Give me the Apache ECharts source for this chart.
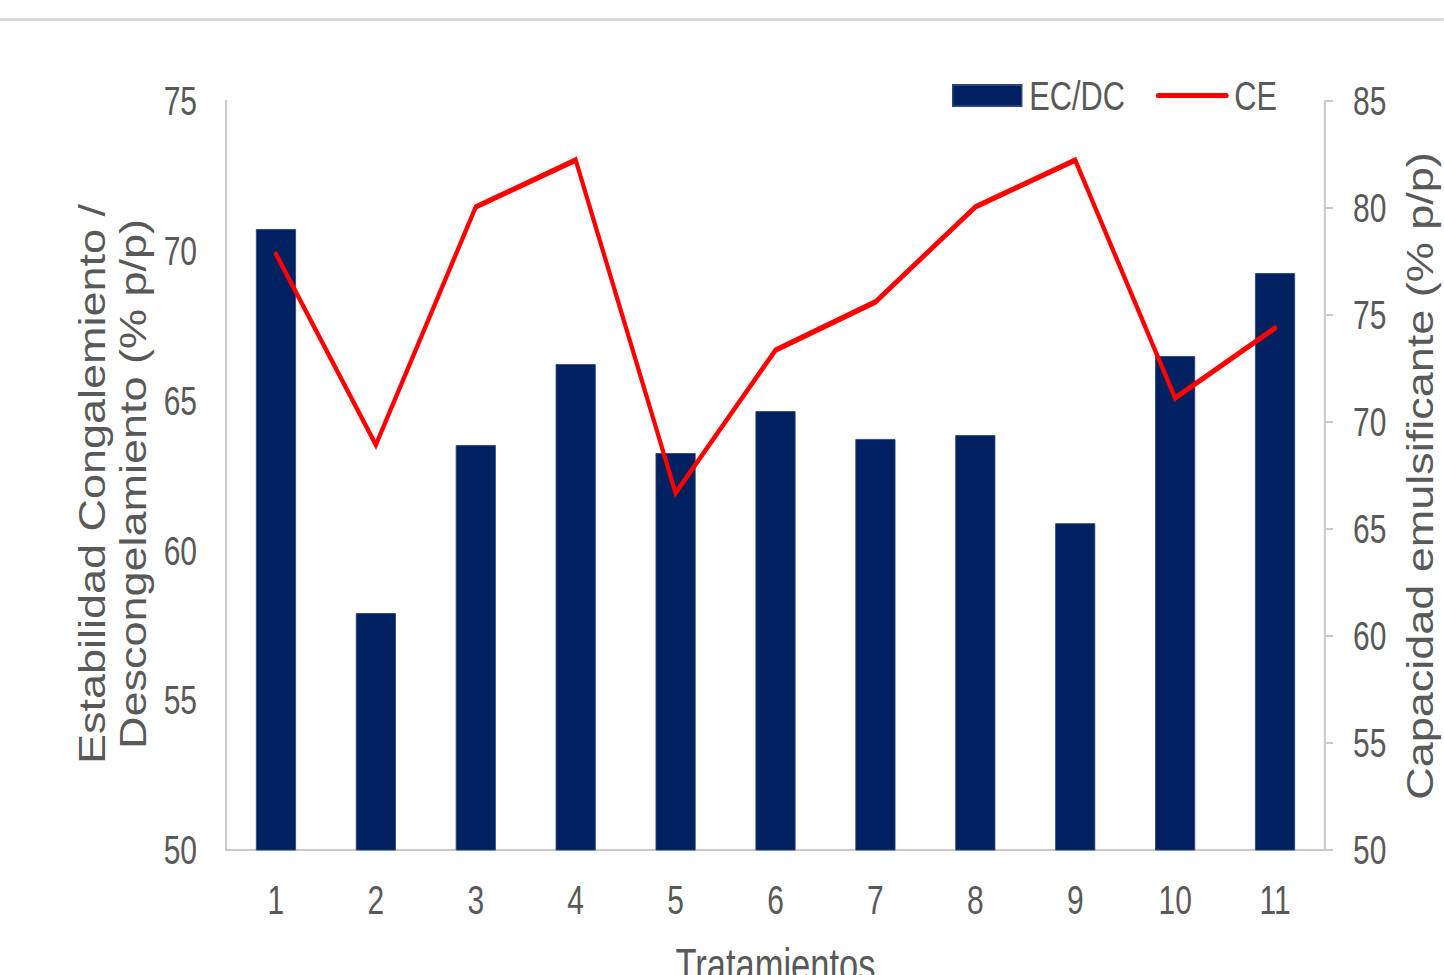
<!DOCTYPE html>
<html>
<head>
<meta charset="utf-8">
<script src="https://cdn.jsdelivr.net/npm/echarts@6/dist/echarts.min.js"></script>
<style>
  html, body { margin: 0; padding: 0; background: #fff; overflow: hidden; width: 1444px; height: 975px; }
  /* The chart is laid out on a wider canvas and squeezed horizontally,
     giving the condensed lettering of the original figure. */
  #chart { width: 1925.33px; height: 975px; transform: scaleX(0.75); transform-origin: 0 0; }
</style>
</head>
<body>
<div id="chart"></div>
<script>
// Treatments on the x axis
const categories = ['1', '2', '3', '4', '5', '6', '7', '8', '9', '10', '11'];
// Freeze/thaw stability (% p/p), left axis
const ecdc = [70.73, 57.91, 63.52, 66.22, 63.25, 64.65, 63.72, 63.85, 60.91, 66.49, 69.26];
// Emulsifying capacity (% p/p), right axis
const ce = [77.85, 68.93, 80.05, 82.24, 66.68, 73.36, 75.61, 80.05, 82.24, 71.12, 74.39];

const SQ = 0.75;                 // horizontal squeeze applied to the chart box
const px = v => v / SQ;          // screen x distance -> layout x distance

const font = "'Liberation Sans', Arial, sans-serif";
const textColor = '#595959';
const axisGray = '#c9c9c9';

const chart = echarts.init(document.getElementById('chart'), null, { renderer: 'svg' });

chart.setOption({
  backgroundColor: '#ffffff',
  animation: false,
  graphic: [
    {
      type: 'rect',
      x: 0, y: 18,
      shape: { width: px(1444), height: 3 },
      style: { fill: '#d9d9d9' },
      silent: true
    },
    {
      // left axis title, two lines reading bottom to top
      type: 'text',
      x: px(112), y: 484,
      rotation: Math.PI / 2,
      scaleY: 0.84 / SQ,
      silent: true,
      style: {
        text: 'Estabilidad Congalemiento /\nDescongelamiento (% p/p)',
        fontFamily: font, fontSize: 45, lineHeight: 49,
        fill: textColor,
        align: 'center', verticalAlign: 'middle',
        textAlign: 'center', textVerticalAlign: 'middle'
      }
    },
    {
      // right axis title
      type: 'text',
      x: px(1420), y: 476,
      rotation: Math.PI / 2,
      scaleY: 0.84 / SQ,
      silent: true,
      style: {
        text: 'Capacidad emulsificante (% p/p)',
        fontFamily: font, fontSize: 45,
        fill: textColor,
        align: 'center', verticalAlign: 'middle',
        textAlign: 'center', textVerticalAlign: 'middle'
      }
    }
  ],
  legend: {
    right: px(1444 - 1281),
    top: 70,
    itemWidth: px(69),
    itemHeight: 21,
    itemGap: px(31),
    textStyle: { fontFamily: font, fontSize: 41, color: textColor, padding: [0, 0, 0, 5] },
    data: [
      { name: 'EC/DC', icon: 'rect' },
      { name: 'CE', itemStyle: { opacity: 0 }, lineStyle: { width: 5, cap: 'round', color: '#ff0000' } }
    ]
  },
  grid: { left: px(226), width: px(1325 - 226), top: 101, height: 749, outerBoundsMode: 'none' },
  xAxis: {
    type: 'category',
    data: categories,
    boundaryGap: true,
    name: 'Tratamientos',
    nameLocation: 'middle',
    nameGap: 92,
    nameTextStyle: { fontFamily: font, fontSize: 46, color: textColor },
    axisLine: { lineStyle: { color: axisGray, width: 2 } },
    axisTick: { show: false },
    axisLabel: { fontFamily: font, fontSize: 40, color: textColor, margin: 30 }
  },
  yAxis: [
    {
      type: 'value',
      min: 50, max: 75, interval: 5,
      position: 'left',
      axisLine: { show: true, lineStyle: { color: axisGray, width: px(2) } },
      axisTick: { show: false },
      splitLine: { show: false },
      axisLabel: { fontFamily: font, fontSize: 40, color: textColor, margin: px(29) }
    },
    {
      type: 'value',
      min: 50, max: 85, interval: 5,
      position: 'right',
      axisLine: { show: true, lineStyle: { color: axisGray, width: px(2) } },
      axisTick: { show: true, length: px(8), lineStyle: { color: axisGray, width: 2 } },
      splitLine: { show: false },
      axisLabel: { fontFamily: font, fontSize: 40, color: textColor, margin: px(28) }
    }
  ],
  series: [
    {
      name: 'EC/DC',
      type: 'bar',
      yAxisIndex: 0,
      data: ecdc,
      barWidth: px(40),
      itemStyle: { color: '#002060', borderColor: '#2a4680', borderWidth: 1 }
    },
    {
      name: 'CE',
      type: 'line',
      yAxisIndex: 1,
      data: ce,
      symbol: 'none',
      lineStyle: { color: '#ff0000', width: 5.5, cap: 'round', join: 'miter' },
      itemStyle: { color: '#ff0000' }
    }
  ]
});
</script>
</body>
</html>
